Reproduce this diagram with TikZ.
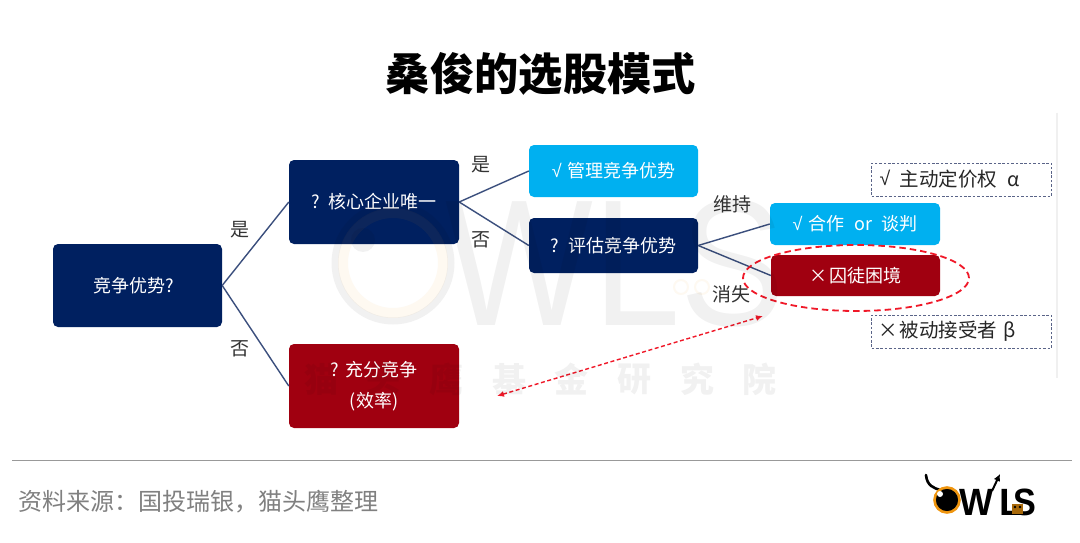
\documentclass[tikz,border=0pt]{standalone}
\usepackage{fontspec}
\setmainfont{Noto Sans CJK SC}
\newfontfamily\latinf{Liberation Sans}
\newcommand{\chk}{{\latinf √}}
\usetikzlibrary{arrows.meta,calc,shapes.geometric}
\definecolor{navy}{HTML}{002060}
\definecolor{sky}{HTML}{00B0F0}
\definecolor{crim}{HTML}{A00010}
\definecolor{linkc}{HTML}{3B4F7D}
\definecolor{dashb}{HTML}{5A6488}
\definecolor{redd}{HTML}{F01828}
\definecolor{lab}{HTML}{333333}
\definecolor{owlor}{HTML}{F0960F}
\tikzset{
  box/.style={rounded corners=5pt,draw=none,text=white,align=center,inner sep=0pt,font=\fontsize{18}{31}\selectfont},
  navybox/.style={box,fill=navy},
  skybox/.style={box,fill=sky},
  redbox/.style={box,fill=crim},
  link/.style={draw=linkc,line width=1.4pt},
  lab/.style={text=lab,font=\fontsize{19}{22}\selectfont,inner sep=0pt},
  notebox/.style={draw=dashb,dash pattern=on 2.6pt off 1.8pt,line width=1pt,text=black!85,inner sep=0pt,font=\fontsize{19.5}{22}\selectfont,anchor=west,align=left},
  redarrow/.style={draw=redd,line width=1.4pt,dash pattern=on 4pt off 2.6pt},
  wm/.style={opacity=.055,text=black,inner sep=0pt},
  logot/.style={inner sep=0pt,anchor=base west,font=\latinf\bfseries\fontsize{38}{39}\selectfont},
}
\newcommand{\boxat}[7]{\node[#1,minimum width=#4pt-#2pt,minimum height=#5pt-#3pt] (#6) at ({(#2+#4)/2},{(#3+#5)/2}) {#7};}
\begin{document}
\begin{tikzpicture}[x=1pt,y=-1pt]
\useasboundingbox (0,0) rectangle (1080,543);
\fill[white] (0,0) rectangle (1080,543);
\node[inner sep=0pt,font=\fontsize{44.3}{50}\bfseries\selectfont] (title) at (541,74) {桑俊的选股模式};
\draw[draw=black!6,line width=1.2pt] (1057,113) coordinate (va) -- (1057,378) coordinate (vb);
\boxat{navybox}{53}{244}{222}{327}{root}{\hspace{-8pt}竞争优势?}
\boxat{navybox}{289}{160}{459}{244}{core}{\raisebox{-1pt}{?\hspace{.5em}核心企业唯一}}
\boxat{redbox}{289}{344}{459}{428}{full}{\raisebox{-3pt}{?\hspace{.4em}充分竞争}\\\raisebox{-3pt}{(效率)}}
\boxat{skybox}{529}{145}{698}{197}{mgmt}{\chk\hspace{.3em}管理竞争优势}
\boxat{navybox}{529}{218}{698}{273}{eval}{?\hspace{.5em}评估竞争优势}
\boxat{skybox}{770}{203}{940}{245}{coop}{\chk\hspace{.35em}合作\hspace{.3em} or\hspace{.3em} 谈判}
\boxat{redbox}{771}{255}{940}{296}{pris}{×\hspace{.1em}囚徒困境}
\draw[link] (root.east) -- (core.west);
\draw[link] (root.east) -- (full.west);
\draw[link] (core.east) -- (mgmt.west);
\draw[link] (core.east) -- (eval.west);
\draw[link] (eval.east) -- (coop.west);
\draw[link] (eval.east) -- (pris.west);
\node[lab] (l1) at (240,230) {是};
\node[lab] (l2) at (240,349) {否};
\node[lab] (l3) at (481,165) {是};
\node[lab] (l4) at (481,240) {否};
\node[lab] (l5) at (732,204) {维持};
\node[lab] (l6) at (731,294) {消失};
\node[notebox,minimum width=180pt,minimum height=33pt,text width=180pt] (n1) at (871,179.5) {\hspace{8pt}\chk\hspace{.5em}\raisebox{-1pt}{主动定价权\hspace{.5em}α}};
\node[notebox,minimum width=180pt,minimum height=33pt,text width=180pt] (n2) at (871,331.5) {\hspace{7pt}\raisebox{-2pt}{×\hspace{.1em}被动接受者 β}};
\node[draw=redd,line width=1.8pt,dash pattern=on 6.5pt off 4pt,ellipse,minimum width=226pt,minimum height=66pt,inner sep=0pt] (ring) at (856,278) {};
\coordinate (ae) at (763,316);
\coordinate (as) at (497,396);
\draw[redarrow,{Latex[length=7pt,width=6pt]}-{Latex[length=7pt,width=6pt]}] (as) -- (ae);
% watermark
\begin{scope}[opacity=.055]
\draw[black,line width=7pt] (393,263) circle (58);
\draw[owlor,line width=10pt] (393,263) circle (50);
\fill[black] (363,240) circle (12);
\draw[owlor,line width=2pt] (681,287) circle (7) (702,287) circle (7);
\end{scope}
\node[wm,font=\latinf\fontsize{180}{180}\selectfont,anchor=base west,xscale=.87] (wmt) at (445,325) {WLS};
\foreach \c [count=\i from 0] in {猫,头,鹰,基,金,研,究,院}
  \node[wm,font=\fontsize{34}{36}\bfseries\selectfont] (wm\i) at ({321+\i*62.7},379) {\c};
% footer
\draw[draw=black!40,line width=1pt] (12,460) coordinate (fa) -- (1072,460) coordinate (fb);
\node[anchor=west,inner sep=0pt,text=black!50,font=\fontsize{24}{28}\selectfont] (src) at (18,502) {资料来源：国投瑞银，猫头鹰整理};
% logo
\draw[line width=2.6pt,line cap=round] (926,475) .. controls (927,486) and (934,488) .. (940,490);
\draw[owlor,fill=black,line width=2.6pt] (947,500) circle (12.5);
\fill[white] (940,494) circle (3);
\node[logot,xscale=.95] (lw) at (959,515) {W};
\node[logot] (ll) at (999,515) {L};
\node[logot,xscale=.9] (ls) at (1013,515) {S};
\draw[line width=2pt,-{Latex[length=7pt,width=7pt]}] (992,491) -- (1000,474);
\fill[owlor!70!black] (1012,504) rectangle (1023,514);
\fill[black] (1015,507) circle (1.3) (1020,507) circle (1.3);
\end{tikzpicture}
\end{document}
